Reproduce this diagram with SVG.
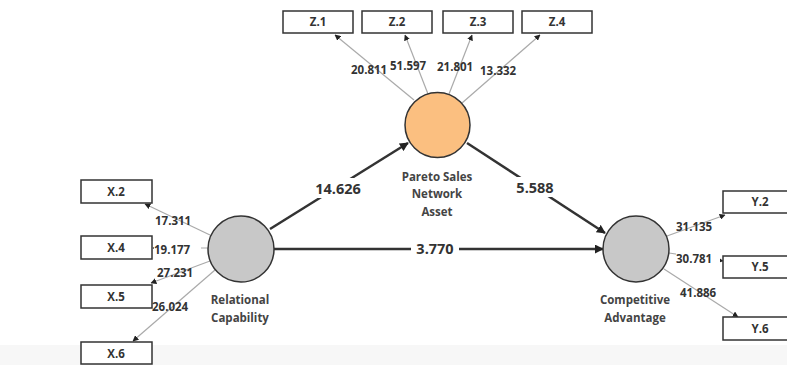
<svg xmlns="http://www.w3.org/2000/svg" width="787" height="365" viewBox="0 0 787 365">
<defs>
<style>
.box{fill:#fff;stroke:#333;stroke-width:1.5}
.bt{font-family:"Open Sans","Liberation Sans",sans-serif;font-weight:bold;font-size:11.5px;fill:#333;text-anchor:middle}
.nl{font-family:"Open Sans","Liberation Sans",sans-serif;font-weight:bold;font-size:11.5px;fill:#444;text-anchor:middle}
.ld{font-family:"Open Sans","Liberation Sans",sans-serif;font-weight:bold;font-size:11.5px;fill:#333}
.pc{font-family:"Open Sans","Liberation Sans",sans-serif;font-weight:bold;font-size:14.5px;fill:#333;text-anchor:middle}
.ind{stroke:#aaa;stroke-width:1.2;fill:none}
.main{stroke:#333;stroke-width:2.5;fill:none}
.gray{fill:#c8c8c8;stroke:#333;stroke-width:1.5}
.orange{fill:#fbbf80;stroke:#333;stroke-width:1.5}
</style>
<marker id="sa" viewBox="0 0 10 10" refX="9" refY="5" markerWidth="6" markerHeight="6" orient="auto" markerUnits="userSpaceOnUse"><path d="M0,0 L10,5 L0,10 z" fill="#222"/></marker>
<marker id="la" viewBox="0 0 10 10" refX="9" refY="5" markerWidth="9" markerHeight="9" orient="auto" markerUnits="userSpaceOnUse"><path d="M0,0 L10,5 L0,10 z" fill="#222"/></marker>
</defs>
<rect x="0" y="0" width="787" height="365" fill="#fff"/>
<rect x="0" y="345" width="787" height="20" fill="#f7f7f7"/>

<g id="connectors">
<line class="ind" x1="414" y1="100" x2="335" y2="35" marker-end="url(#sa)"/>
<line class="ind" x1="428" y1="94" x2="405" y2="35" marker-end="url(#sa)"/>
<line class="ind" x1="449" y1="94" x2="472" y2="35" marker-end="url(#sa)"/>
<line class="ind" x1="462" y1="103" x2="540" y2="35" marker-end="url(#sa)"/>
<line class="ind" x1="210" y1="235" x2="145" y2="204" marker-end="url(#sa)"/>
<line class="ind" x1="208" y1="248" x2="153" y2="248" marker-end="url(#sa)"/>
<line class="ind" x1="210" y1="261" x2="151" y2="283" marker-end="url(#sa)"/>
<line class="ind" x1="215" y1="270" x2="133" y2="341" marker-end="url(#sa)"/>
<line class="ind" x1="667" y1="236" x2="725" y2="215" marker-end="url(#sa)"/>
<line class="ind" x1="669" y1="253" x2="723" y2="261" marker-end="url(#sa)"/>
<line class="ind" x1="664" y1="269" x2="738" y2="317" marker-end="url(#sa)"/>
<line class="main" x1="270" y1="229" x2="408" y2="143" marker-end="url(#la)"/>
<line class="main" x1="467" y1="143" x2="605" y2="233" marker-end="url(#la)"/>
<line class="main" x1="274" y1="249" x2="603" y2="249" marker-end="url(#la)"/>
<rect x="312" y="178" width="54" height="20" fill="#fff"/>
<rect x="511" y="177" width="48" height="20" fill="#fff"/>
<rect x="411" y="240" width="48" height="18" fill="#fff"/>
<text class="pc" x="338" y="194">14.626</text>
<text class="pc" x="535" y="193">5.588</text>
<text class="pc" x="435" y="254">3.770</text>
<text class="ld" x="351" y="74">20.811</text>
<text class="ld" x="390" y="70">51.597</text>
<text class="ld" x="437" y="71">21.801</text>
<text class="ld" x="480" y="75">13.332</text>
<text class="ld" x="155" y="225">17.311</text>
<rect x="154" y="242" width="47" height="13" fill="#fff"/>
<text class="ld" x="154" y="254">19.177</text>
<text class="ld" x="157" y="277">27.231</text>
<text class="ld" x="152" y="311">26.024</text>
<text class="ld" x="676" y="231">31.135</text>
<rect x="676" y="252" width="44" height="13" fill="#fff"/>
<text class="ld" x="676" y="263">30.781</text>
<text class="ld" x="680" y="297">41.886</text>
</g>

<g id="Z1"><rect class="box" x="283" y="11" width="70" height="22"/><text class="bt" x="318" y="26">Z.1</text></g>
<g id="Z2"><rect class="box" x="362" y="11" width="70" height="22"/><text class="bt" x="397" y="26">Z.2</text></g>
<g id="Z3"><rect class="box" x="443" y="11" width="70" height="22"/><text class="bt" x="478" y="26">Z.3</text></g>
<g id="Z4"><rect class="box" x="522" y="11" width="70" height="22"/><text class="bt" x="557" y="26">Z.4</text></g>
<g id="X2"><rect class="box" x="81" y="180" width="71" height="23"/><text class="bt" x="116" y="196">X.2</text></g>
<g id="X4"><rect class="box" x="81" y="236" width="71" height="23"/><text class="bt" x="116" y="252">X.4</text></g>
<g id="X5"><rect class="box" x="81" y="285" width="71" height="23"/><text class="bt" x="116" y="301">X.5</text></g>
<g id="X6"><rect class="box" x="81" y="342" width="71" height="22"/><text class="bt" x="116" y="358">X.6</text></g>
<g id="Y2"><rect class="box" x="723" y="191" width="72" height="22"/><text class="bt" x="760" y="206">Y.2</text></g>
<g id="Y5"><rect class="box" x="723" y="256" width="72" height="22"/><text class="bt" x="760" y="271">Y.5</text></g>
<g id="Y6"><rect class="box" x="723" y="317" width="72" height="23"/><text class="bt" x="760" y="333">Y.6</text></g>

<g id="Pareto"><circle class="orange" cx="437.5" cy="125" r="32.5"/><text class="nl" x="437" y="181">Pareto Sales</text><text class="nl" x="437" y="198">Network</text><text class="nl" x="437" y="216">Asset</text></g>
<g id="RC"><circle class="gray" cx="241" cy="249" r="33"/><text class="nl" x="240" y="304">Relational</text><text class="nl" x="240" y="322">Capability</text></g>
<g id="CA"><circle class="gray" cx="636" cy="249" r="33"/><text class="nl" x="635" y="304">Competitive</text><text class="nl" x="635" y="322">Advantage</text></g>
</svg>
